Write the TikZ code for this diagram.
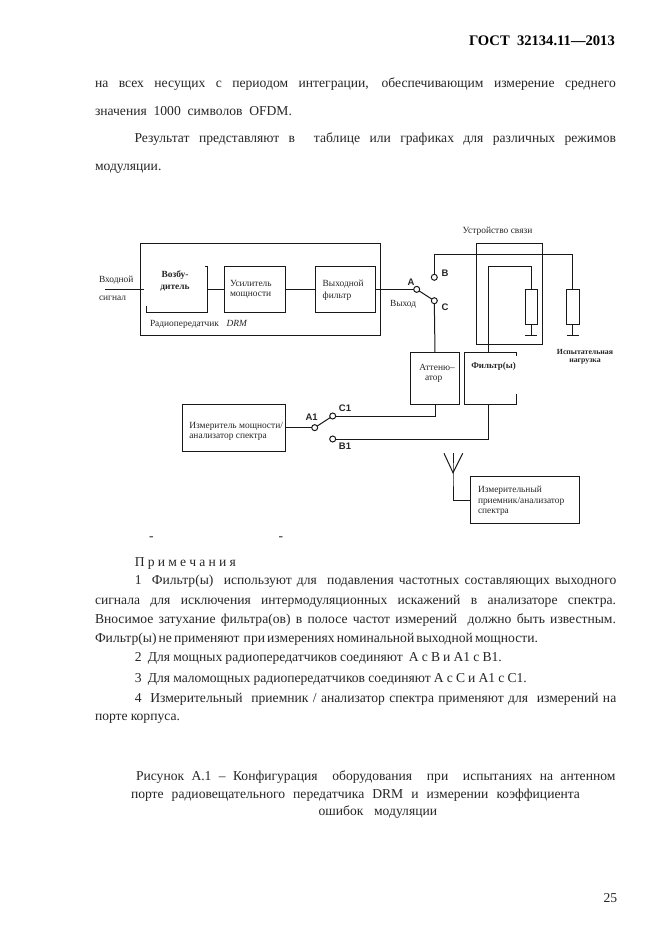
\documentclass[tikz,border=0pt]{standalone}
\usepackage{fontspec}
\setmainfont{Liberation Serif}
\newfontfamily\lblsans{Liberation Sans}
\usetikzlibrary{calc}
\newcommand{\bodyf}{\fontsize{13.6}{16}\selectfont}
\newcommand{\smallf}{\fontsize{9.4}{11}\selectfont}
\tikzset{
  conn/.style={line width=1pt,black!90},
  box/.style={draw=black!90,line width=1pt,inner sep=0pt,outer sep=0pt,rectangle},
  ghost/.style={inner sep=0pt,outer sep=0pt,rectangle},
  term/.style={draw=black!90,line width=1pt,circle,fill=white,inner sep=0pt,outer sep=0pt,minimum size=6pt},
  res/.style={draw=black!90,line width=1pt,rectangle,inner sep=0pt,outer sep=0pt,minimum width=12.3pt,minimum height=34.7pt},
  txt/.style={inner sep=0pt,outer sep=0pt,anchor=base west,text=black!85},
  ctxt/.style={inner sep=0pt,outer sep=0pt,anchor=base,text=black!85},
  lab/.style={txt,font=\smallf},
  clab/.style={ctxt,font=\smallf},
  blab/.style={ctxt,font=\smallf\bfseries},
  sw/.style={ctxt,font=\lblsans\fontsize{9.5}{11}\selectfont\bfseries}
}
\newcommand{\jl}[5]{\node[txt,font=\bodyf] (#1) at (#2,#3) {\hbox to #5pt{\spaceskip=0.08em plus 1fil\relax #4}};}
\begin{document}
\begin{tikzpicture}[x=1pt,y=-1pt]
\useasboundingbox (0,0) rectangle (662,935);
\fill[white] (0,0) rectangle (662,935);
% page text
\node[txt,font=\fontsize{14.6}{17}\selectfont\bfseries,text=black] (hdr) at (469,45) {ГОСТ\ \ 32134.11—2013};
\jl{p1}{95}{87}{на всех несущих с периодом интеграции, обеспечивающим измерение среднего}{521}
\jl{p2}{95}{115}{значения 1000 символов OFDM.}{197}
\jl{p3}{134.5}{142}{Результат представляют в\ \ таблице или графиках для различных режимов}{481.5}
\jl{p4}{95}{170}{модуляции.}{70}
\jl{n0}{134.8}{566}{П р и м е ч а н и я}{101}
\jl{n1}{134.8}{584.4}{1\ \ Фильтр(ы)\ \ используют для\ \ подавления частотных составляющих выходного}{481.5}
\jl{n2}{95}{604}{сигнала для исключения интермодуляционных искажений в анализаторе спектра.}{521}
\jl{n3}{95}{623}{Вносимое затухание фильтра(ов) в полосе частот измерений\ \ должно быть известным.}{521}
\jl{n4}{95}{642.6}{Фильтр(ы) не применяют\ \ при измерениях номинальной выходной мощности.}{443}
\jl{n5}{134.8}{661.5}{2\ \ Для мощных радиопередатчиков соединяют\ \ А с В и А1 с В1.}{367}
\jl{n6}{134.8}{682.5}{3\ \ Для маломощных радиопередатчиков соединяют А с С и А1 с С1.}{392}
\jl{n7}{134.8}{702}{4\ \ Измерительный\ \ приемник / анализатор спектра применяют для\ \ измерений на}{481.5}
\jl{n8}{95}{720.4}{порте корпуса.}{85}
\jl{c1}{136}{780.4}{Рисунок А.1 – Конфигурация\ \ оборудования\ \ при\ \ испытаниях на антенном}{479.5}
\jl{c2}{131}{798}{порте радиовещательного передатчика DRM и измерении коэффициента}{449}
\jl{c3}{318.6}{815}{ошибок модуляции}{118.5}
\node[txt,font=\bodyf] (pg) at (603.5,902.7) {25};
\node[txt,font=\bodyf] (d1) at (149,540.3) {-};
\node[txt,font=\bodyf] (d2) at (278.5,540.3) {-};

% transmitter
\node[box,minimum width=240pt,minimum height=92pt] (tx) at (260.7,289) {};
\node[ghost,minimum width=60.3pt,minimum height=46.7pt] (exc) at (176.85,289.35) {};
\node[box,minimum width=60.6pt,minimum height=46.7pt] (amp) at (255,289.35) {};
\node[box,minimum width=60pt,minimum height=46.7pt] (flt) at (345,289.35) {};
\draw[conn] ([xshift=-2.5pt]exc.north east) -- (exc.north east) -- (exc.south east) -- (exc.south west) -- ([yshift=6.5pt]exc.south west);
\coordinate (in) at (105,289.35);
\coordinate (txin) at (144,289.35);
\draw[conn] (in) -- (txin);
\draw[conn] (exc.east) -- (amp.west);
\draw[conn] (amp.east) -- (flt.west);
% switch
\node[term] (A) at (416.7,289.35) {};
\node[term] (C) at (434.3,300.7) {};
\node[term] (B) at (434.3,277.3) {};
\draw[conn] (flt.east) -- (A);
\draw[conn] (A) -- (C);
% coupler
\node[box,minimum width=66pt,minimum height=101.3pt] (cpl) at (509.7,293.65) {};
\node[res] (r1) at (531.15,306.65) {};
\node[res] (r2) at (572.85,306.65) {};
\coordinate (g1) at (531.15,335);
\coordinate (g2) at (572.85,335);
\draw[conn] (r1.south) -- (g1);
\draw[conn] (r2.south) -- (g2);
\draw[conn] ([xshift=-6.15pt]g1) -- ([xshift=6.15pt]g1);
\draw[conn] ([xshift=-6.15pt]g2) -- ([xshift=6.15pt]g2);
\coordinate (bus) at (434.3,254.3);
\draw[conn] (B) -- (bus) -| (r2.north);
% attenuator and filter
\node[box,minimum width=48.6pt,minimum height=52pt] (att) at (435,378.7) {};
\node[ghost,minimum width=51.7pt,minimum height=52pt] (fl2) at (490.15,378.7) {};
\draw[conn] ([yshift=-3.5pt]fl2.north east) -- (fl2.north east) -- (fl2.north west) -- (fl2.south west) -- (fl2.south east) -- ([yshift=11pt]fl2.south east);
\draw[conn] (C) -- (att.north);
\coordinate (fu) at (488.7,352.7);
\coordinate (fv) at (488.7,266.7);
\draw[conn] (fu) -- (fv) -| (r1.north);
% meter
\node[box,minimum width=102.6pt,minimum height=46.7pt] (pm) at (234,427.65) {};
\node[term] (A1) at (314.7,427.65) {};
\node[term] (C1) at (332.7,416) {};
\node[term] (B1) at (332.7,439) {};
\draw[conn] (pm.east) -- (A1);
\draw[conn] (A1) -- (C1);
\draw[conn] (att.south) |- (C1);
\coordinate (fd) at (488.7,404.7);
\draw[conn] (fd) |- (B1);
% antenna and receiver
\node[box,minimum width=108.6pt,minimum height=46.6pt] (rx) at (525,500) {};
\coordinate (al) at (444,453.3);
\coordinate (ar) at (462.7,453.3);
\coordinate (at) at (453,453.3);
\coordinate (ab) at (453,472.7);
\draw[conn] (al) -- (ab) -- (ar);
\draw[conn] (at) -- (ab) |- (rx.west);
% diagram labels
\node[lab] (l1) at (99,282) {Входной};
\node[lab] (l2) at (99,300.7) {сигнал};
\node[blab] (l3) at (175,277) {Возбу-};
\node[blab] (l4) at (175,289) {дитель};
\node[lab] (l5) at (230,286) {Усилитель};
\node[lab] (l6) at (230,296.7) {мощности};
\node[lab] (l7) at (322.7,286.7) {Выходной};
\node[lab] (l8) at (322.7,298) {фильтр};
\node[lab] (l9) at (150,326) {Радиопередатчик};
\node[lab,font=\smallf\itshape] (l10) at (226.7,326) {DRM};
\node[lab] (l11) at (390,306) {Выход};
\node[sw] (sA) at (411,285) {A};
\node[sw] (sB) at (445,276.7) {B};
\node[sw] (sC) at (445,310.7) {C};
\node[lab] (l12) at (462.7,233) {Устройство связи};
\node[blab,font=\fontsize{7.8}{9}\selectfont\bfseries] (l13) at (585,354) {Испытательная};
\node[blab,font=\fontsize{7.8}{9}\selectfont\bfseries] (l14) at (585,362.7) {нагрузка};
\node[lab] (l15) at (419.3,370) {Аттеню–};
\node[lab] (l16) at (425,380) {атор};
\node[blab,font=\fontsize{8.9}{10}\selectfont\bfseries] (l17) at (493.5,368) {Фильтр(ы)};
\node[lab] (l18) at (189.3,428) {Измеритель мощности/};
\node[lab] (l19) at (189.3,438) {анализатор спектра};
\node[sw] (sA1) at (311.7,420.7) {A1};
\node[sw] (sC1) at (345,411.7) {C1};
\node[sw] (sB1) at (345,449) {B1};
\node[lab] (l20) at (478,492.3) {Измерительный};
\node[lab] (l21) at (478,503) {приемник/анализатор};
\node[lab] (l22) at (478,513.3) {спектра};
\end{tikzpicture}
\end{document}
